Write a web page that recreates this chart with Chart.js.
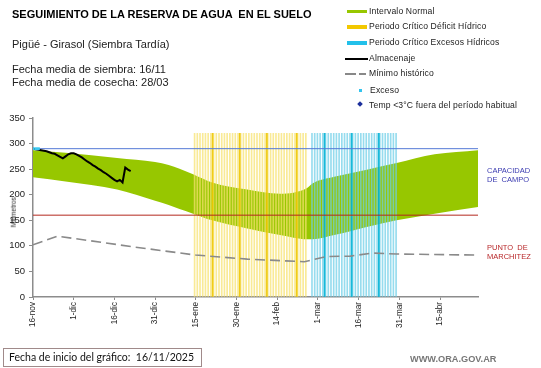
<!DOCTYPE html>
<html>
<head>
<meta charset="utf-8">
<script src="https://cdn.jsdelivr.net/npm/chart.js@4.4.1/dist/chart.umd.min.js"></script>
<style>
body { margin: 0; background: #fff; font-family: "Liberation Sans", Arial, sans-serif; }
#wrap { position: relative; width: 541px; height: 368px; overflow: hidden; background: #fff; }
#reserva { position: absolute; left: 0; top: 0; }
.txt { position: absolute; white-space: pre; color: #000; line-height: 1; }
.leg { position: absolute; left: 369px; font-size: 8.6px; color: #222; white-space: pre; line-height: 1; letter-spacing: 0.15px; }
.sw { position: absolute; }
</style>
</head>
<body>
<div id="wrap">
	<canvas id="reserva" width="541" height="368"></canvas>

	<div class="txt" style="left:12px; top:9px; font-size:11px; font-weight:bold;">SEGUIMIENTO DE LA RESERVA DE AGUA  EN EL SUELO</div>
	<div class="txt" style="left:12px; top:39px; font-size:11px; color:#222;">Pigüé - Girasol (Siembra Tardía)</div>
	<div class="txt" style="left:12px; top:64px; font-size:11px; color:#222;">Fecha media de siembra: 16/11</div>
	<div class="txt" style="left:12px; top:77px; font-size:11px; color:#222;">Fecha media de cosecha: 28/03</div>

	<!-- Leyenda -->
	<div class="sw" style="left:347px; top:10px; width:20px; height:3px; background:#97c700;"></div>
	<div class="leg" style="top:7px;">Intervalo Normal</div>
	<div class="sw" style="left:347px; top:25px; width:20px; height:4px; background:#f2c800;"></div>
	<div class="leg" style="top:22px;">Periodo Crítico Déficit Hídrico</div>
	<div class="sw" style="left:347px; top:41px; width:20px; height:4px; background:#22c0ea;"></div>
	<div class="leg" style="top:38px;">Periodo Crítico Excesos Hídricos</div>
	<div class="sw" style="left:345px; top:58px; width:23px; height:2px; background:#000;"></div>
	<div class="leg" style="top:54px;">Almacenaje</div>
	<div class="sw" style="left:345px; top:73px; width:11px; height:2px; background:#888;"></div>
	<div class="sw" style="left:359px; top:73px; width:7px; height:2px; background:#888;"></div>
	<div class="leg" style="top:69px;">Mínimo histórico</div>
	<div class="sw" style="left:359px; top:89px; width:3px; height:3px; background:#33c4ee;"></div>
	<div class="leg" style="top:86px; left:370px;">Exceso</div>
	<div class="sw" style="left:358px; top:102px; width:4px; height:4px; background:#1c2f9c; transform:rotate(45deg);"></div>
	<div class="leg" style="top:101px;">Temp &lt;3°C fuera del período habitual</div>

	<div class="txt" style="left:487px; top:166px; font-size:7.5px; color:#3a3ab0; line-height:9px;">CAPACIDAD
DE  CAMPO</div>
	<div class="txt" style="left:487px; top:243px; font-size:7.5px; color:#b8282a; line-height:9px;">PUNTO  DE
MARCHITEZ</div>

	<div class="txt" style="left:-4px; top:209px; width:36px; text-align:center; font-size:6.5px; color:#222; transform:rotate(-90deg);">Milímetros</div>

	<div style="position:absolute; left:3px; top:348px; width:199px; height:19px; border:1px solid #a08a8a; box-sizing:border-box;"></div>
	<div class="txt" style="left:9px; top:352px; font-family:Lato, sans-serif; font-size:10.5px; color:#111;">Fecha de inicio del gráfico:  16/11/2025</div>
	<div class="txt" style="left:410px; top:355px; font-size:9.2px; font-weight:bold; color:#777;">WWW.ORA.GOV.AR</div>
</div>

<script>
// Eje X: días desde el 16-nov
const xTickDays = [0, 15, 30, 45, 60, 75, 90, 105, 120, 135, 150];
const xTickLabels = ['16-nov', '1-dic', '16-dic', '31-dic', '15-ene', '30-ene', '14-feb', '1-mar', '16-mar', '31-mar', '15-abr'];
const lastDay = 164;

// Intervalo normal (límites inferior y superior, mm)
const bandDays = [0, 12, 31, 45, 50, 54, 59, 66, 79, 91, 96, 101, 103, 111, 123, 134, 148, 164];
const bandUpper = [287, 282, 272, 264, 258, 251, 240, 224, 210, 202, 204, 213, 222, 235, 249, 262, 279, 287];
const bandLower = [234, 226, 210, 188, 180, 172, 163, 150, 134, 121, 116, 113, 113, 121, 137, 150, 163, 176];

// Almacenaje observado
const storeDays = [0, 1, 2, 3, 4, 5, 6, 7, 8, 9, 10, 11, 12, 13, 14, 15, 16, 17, 18, 19, 20, 21, 22, 23, 24, 25, 26, 27, 28, 29, 30, 31, 32, 33, 34, 35, 36];
const storeVals = [290, 289, 288, 287, 286, 285, 283, 281, 280, 277, 274, 271, 275, 279, 281, 281, 279, 276, 273, 269, 265, 262, 258, 255, 251, 248, 244, 241, 237, 233, 229, 226, 229, 224, 253, 249, 246];

// Mínimo histórico
const minDays = [0, 9, 37, 60, 79, 100, 108, 117, 125, 134, 164];
const minVals = [102, 119, 98, 82, 74, 69, 79, 80, 86, 84, 82];

// Excesos
const excessDays = [0, 1, 2];
const excessVals = [290, 290, 290];

// Periodos críticos (días marcados) y altura de las marcas
const deficitDays = [59, 60, 61, 62, 63, 64, 65, 66, 67, 68, 69, 70, 71, 72, 73, 74, 75, 76, 77, 78, 79, 80, 81, 82, 83, 84, 85, 86, 87, 88, 89, 90, 91, 92, 93, 94, 95, 96, 97, 98, 99, 100];
const deficitStrong = [66, 76, 86, 97];
const surplusDays = [103, 104, 105, 106, 107, 108, 109, 110, 111, 112, 113, 114, 115, 116, 117, 118, 119, 120, 121, 122, 123, 124, 125, 126, 127, 128, 129, 130, 131, 132, 133, 134];
const surplusStrong = [108, 118, 128];
const periodTop = 320;

// Capacidad de campo y punto de marchitez
const fieldCapacity = 290;
const wiltingPoint = 160;

const axisColor = '#8c8c8c';
const labelColor = '#222';

function pts(xs, ys) {
	return xs.map((x, i) => ({x: x, y: ys[i]}));
}
function marks(xs) {
	return xs.map(x => ({x: x, y: periodTop}));
}
function hline(v) {
	return [{x: 0, y: v}, {x: lastDay, y: v}];
}

var reserva = new Chart(document.getElementById('reserva'), {
	type: 'line',
	data: {
		datasets: [
			{ // límite inferior (invisible)
				data: pts(bandDays, bandLower),
				borderWidth: 0,
				borderColor: 'rgba(0,0,0,0)',
				cubicInterpolationMode: 'monotone',
				pointRadius: 0,
				fill: false,
				order: 20
			},
			{
				data: pts(bandDays, bandUpper),
				borderWidth: 0,
				borderColor: 'rgba(0,0,0,0)',
				backgroundColor: '#97c700',
				cubicInterpolationMode: 'monotone',
				pointRadius: 0,
				fill: '-1',
				order: 19
			},
			{
				type: 'bar',
				data: marks(deficitDays),
				backgroundColor: 'rgba(246,226,110,0.72)',
				barThickness: 1,
				order: 15
			},
			{
				type: 'bar',
				data: marks(deficitStrong),
				backgroundColor: 'rgba(238,198,0,0.9)',
				barThickness: 1,
				order: 14
			},
			{
				type: 'bar',
				data: marks(surplusDays),
				backgroundColor: 'rgba(110,206,232,0.72)',
				barThickness: 1,
				order: 13
			},
			{
				type: 'bar',
				data: marks(surplusStrong),
				backgroundColor: 'rgba(0,178,214,0.9)',
				barThickness: 1,
				order: 12
			},
			{
				data: hline(fieldCapacity),
				borderColor: '#5479d6',
				borderWidth: 1,
				pointRadius: 0,
				order: 6
			},
			{
				data: hline(wiltingPoint),
				borderColor: '#b4281e',
				borderWidth: 1,
				pointRadius: 0,
				order: 5
			},
			{
				data: pts(minDays, minVals),
				borderColor: '#8a8a8a',
				borderWidth: 1.6,
				borderDash: [10, 5],
				pointRadius: 0,
				order: 4
			},
			{
				data: pts(storeDays, storeVals),
				borderColor: '#000',
				borderWidth: 2,
				pointRadius: 0,
				order: 2
			},
			{
				data: pts(excessDays, excessVals),
				showLine: false,
				pointStyle: 'rect',
				pointRadius: 2,
				pointBackgroundColor: '#3cc8f0',
				pointBorderWidth: 0,
				order: 1
			}
		]
	},
	options: {
		responsive: false,
		animation: false,
		layout: {
			padding: {left: 0, top: 118, right: 63, bottom: 0}
		},
		plugins: {
			legend: {display: false},
			tooltip: {enabled: false}
		},
		elements: {
			line: {tension: 0}
		},
		scales: {
			x: {
				type: 'linear',
				min: 0,
				max: lastDay,
				offset: false,
				afterBuildTicks: s => { s.ticks = xTickDays.map(v => ({value: v})); },
				afterFit: s => { s.height = 368 - 297; },
				ticks: {
					autoSkip: false,
					minRotation: 90,
					maxRotation: 90,
					padding: 2,
					color: labelColor,
					font: {family: 'Liberation Sans', size: 8.2},
					callback: v => xTickLabels[xTickDays.indexOf(v)]
				},
				grid: {
					offset: false,
					drawOnChartArea: false,
					drawTicks: true,
					tickLength: 3,
					color: axisColor
				},
				border: {color: axisColor, width: 1.5}
			},
			y: {
				min: 0,
				max: 350,
				afterFit: s => { s.width = 33; },
				ticks: {
					stepSize: 50,
					padding: 4,
					color: labelColor,
					font: {family: 'Liberation Sans', size: 9.5}
				},
				grid: {
					drawOnChartArea: false,
					drawTicks: true,
					tickLength: 4,
					color: axisColor
				},
				border: {color: axisColor, width: 1.5}
			}
		}
	}
});
</script>
</body>
</html>
